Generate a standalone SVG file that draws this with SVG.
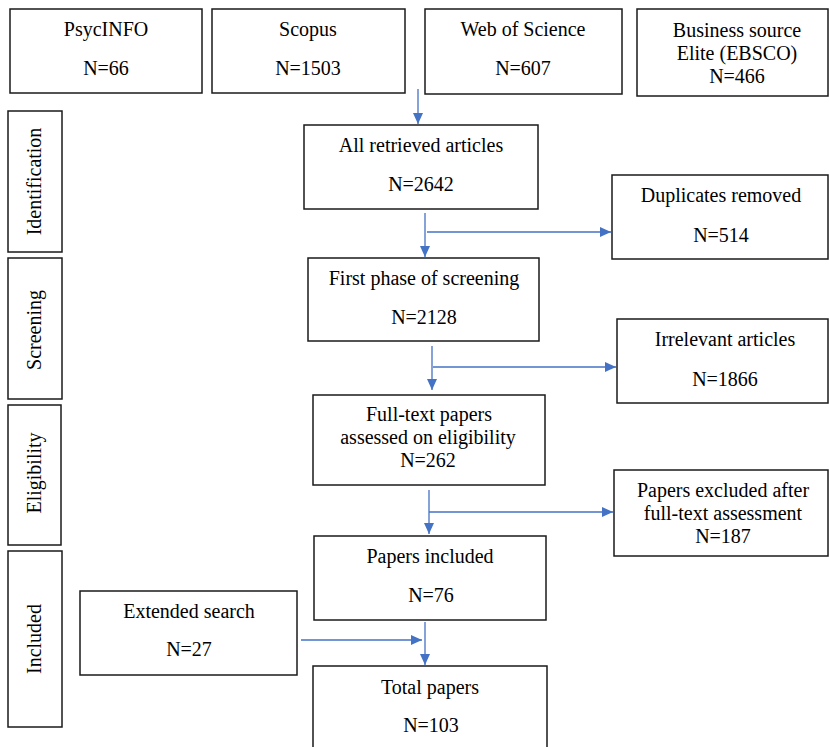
<svg xmlns="http://www.w3.org/2000/svg" width="829" height="747" viewBox="0 0 829 747">
<defs>
<style>
.b{fill:#fff;stroke:#1a1a1a;stroke-width:1.5}
.t{font-size:20px;fill:#000;text-anchor:middle}
.c{fill:none;stroke:#4472C4;stroke-width:1.3}
</style>
<marker id="ah" markerUnits="userSpaceOnUse" markerWidth="12" markerHeight="12" viewBox="0 0 12 12" refX="11" refY="6" orient="auto">
<path d="M0,1 L11,6 L0,11 Z" fill="#4472C4"/>
</marker>
</defs>
<rect width="829" height="747" fill="#fff"/>
<g font-family="Liberation Serif, Tinos, Times New Roman, DejaVu Serif, serif">
<g id="psycinfo"><rect class="b" x="10" y="9" width="192" height="84"/><text class="t" x="106" y="36">PsycINFO</text><text class="t" x="106" y="75">N=66</text></g>
<g id="scopus"><rect class="b" x="212" y="9" width="193" height="84"/><text class="t" x="308" y="36">Scopus</text><text class="t" x="308" y="75">N=1503</text></g>
<g id="wos"><rect class="b" x="425" y="9" width="197" height="85"/><text class="t" x="523" y="36">Web of Science</text><text class="t" x="523" y="75">N=607</text></g>
<g id="ebsco"><rect class="b" x="637" y="9" width="191" height="87"/><text class="t" x="737" y="37">Business source</text><text class="t" x="737" y="60">Elite (EBSCO)</text><text class="t" x="737" y="83">N=466</text></g>

<g id="identification"><rect class="b" x="8" y="111" width="54" height="141"/><text class="t" transform="translate(41,181.5) rotate(-90)">Identification</text></g>
<g id="screening"><rect class="b" x="8" y="258" width="54" height="141"/><text class="t" transform="translate(41,330) rotate(-90)">Screening</text></g>
<g id="eligibility"><rect class="b" x="8" y="405" width="53" height="140"/><text class="t" transform="translate(41,473) rotate(-90)">Eligibility</text></g>
<g id="included"><rect class="b" x="8" y="551" width="54" height="176"/><text class="t" transform="translate(41,639) rotate(-90)">Included</text></g>

<g id="retrieved"><rect class="b" x="304" y="125" width="234" height="84"/><text class="t" x="421" y="152">All retrieved articles</text><text class="t" x="421" y="191">N=2642</text></g>
<g id="duplicates"><rect class="b" x="612" y="175" width="216" height="84"/><text class="t" x="721" y="202">Duplicates removed</text><text class="t" x="721" y="242">N=514</text></g>
<g id="firstphase"><rect class="b" x="308" y="258" width="231" height="83"/><text class="t" x="424" y="285">First phase of screening</text><text class="t" x="424" y="324">N=2128</text></g>
<g id="irrelevant"><rect class="b" x="617" y="319" width="211" height="84"/><text class="t" x="725" y="346">Irrelevant articles</text><text class="t" x="725" y="386">N=1866</text></g>
<g id="fulltext"><rect class="b" x="313" y="395" width="232" height="90"/><text class="t" x="429" y="421">Full-text papers</text><text class="t" x="428" y="444">assessed on eligibility</text><text class="t" x="428" y="467">N=262</text></g>
<g id="excluded"><rect class="b" x="614" y="470" width="214" height="86"/><text class="t" x="723" y="497">Papers excluded after</text><text class="t" x="723" y="520">full-text assessment</text><text class="t" x="723" y="543">N=187</text></g>
<g id="papersincluded"><rect class="b" x="314" y="536" width="232" height="84"/><text class="t" x="430" y="563">Papers included</text><text class="t" x="431" y="602">N=76</text></g>
<g id="extended"><rect class="b" x="80" y="591" width="217" height="84"/><text class="t" x="189" y="618">Extended search</text><text class="t" x="189" y="656">N=27</text></g>
<g id="total"><rect class="b" x="313" y="666" width="234" height="90"/><text class="t" x="430" y="694">Total papers</text><text class="t" x="431" y="732">N=103</text></g>
</g>
<g id="connectors">
<line class="c" x1="418" y1="89" x2="418" y2="124" marker-end="url(#ah)"/>
<line class="c" x1="425" y1="213" x2="425" y2="257" marker-end="url(#ah)"/>
<line class="c" x1="427" y1="232" x2="611" y2="232" marker-end="url(#ah)"/>
<line class="c" x1="432" y1="346" x2="432" y2="390" marker-end="url(#ah)"/>
<line class="c" x1="433" y1="367" x2="616" y2="367" marker-end="url(#ah)"/>
<line class="c" x1="429" y1="490" x2="429" y2="534" marker-end="url(#ah)"/>
<line class="c" x1="429" y1="512" x2="613" y2="512" marker-end="url(#ah)"/>
<line class="c" x1="425" y1="622" x2="425" y2="665" marker-end="url(#ah)"/>
<line class="c" x1="301" y1="640" x2="422" y2="640" marker-end="url(#ah)"/>
</g>
</svg>
